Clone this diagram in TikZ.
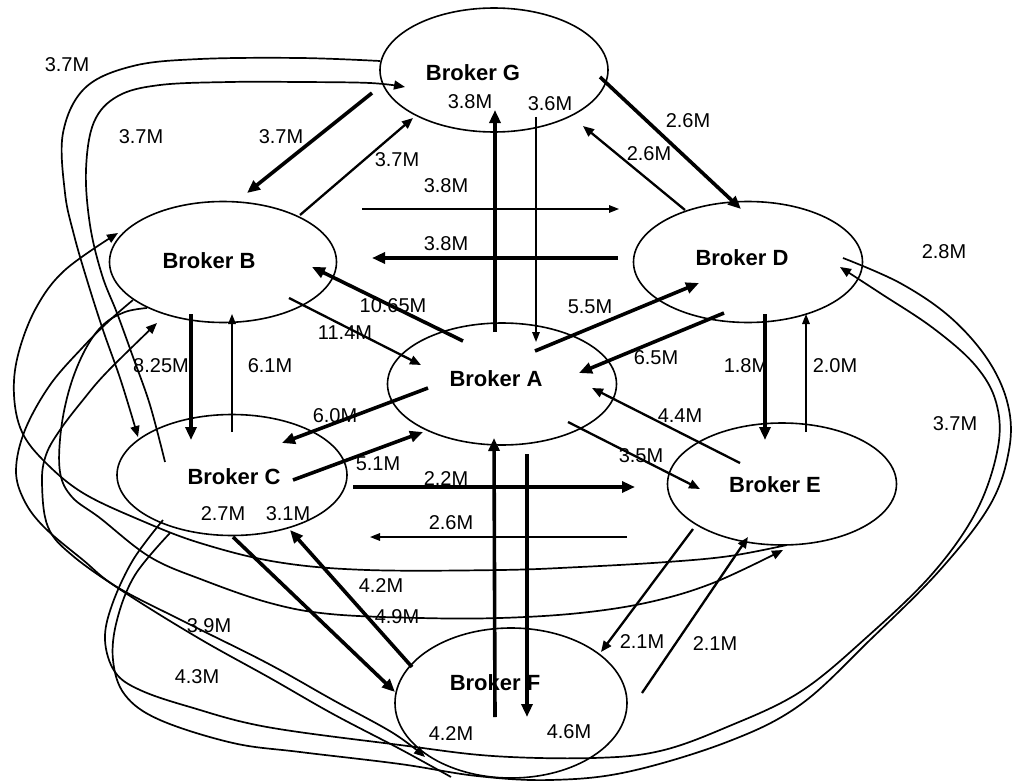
\documentclass[tikz,border=0pt]{standalone}
\usepackage{fontspec}
\setmainfont{Liberation Sans}
\usetikzlibrary{arrows.meta,shapes.geometric}
\begin{document}
\begin{tikzpicture}[x=1pt,y=-1pt,
  broker/.style={draw, ellipse, line width=1.6pt, inner sep=0pt},
  bname/.style={font=\fontsize{22}{22}\selectfont\bfseries, inner sep=0pt},
  rate/.style={font=\fontsize{20}{20}\selectfont, inner sep=0pt},
  heavy/.style={line width=3.6pt, -{Triangle[length=13pt,width=11pt]}},
  medium/.style={line width=2.3pt, -{Triangle[length=11pt,width=9pt]}},
  light/.style={line width=1.5pt, -{Triangle[length=10pt,width=7.5pt]}},
  route/.style={line width=1.7pt, line join=round},
  routetip/.style={route, -{Triangle[length=11pt,width=9pt]}}
]
\useasboundingbox (0,0) rectangle (1013,784);
\fill[white] (0,0) rectangle (1013,784);

% brokers
\node[broker, minimum width=228pt, minimum height=124pt] (G) at (494,70) {};
\node[broker, minimum width=227pt, minimum height=121pt] (B) at (223,262) {};
\node[broker, minimum width=229pt, minimum height=121pt] (D) at (748,262) {};
\node[broker, minimum width=229pt, minimum height=122pt] (A) at (502,384) {};
\node[broker, minimum width=230pt, minimum height=121pt] (C) at (232,475) {};
\node[broker, minimum width=229pt, minimum height=122pt] (E) at (782,484) {};
\node[broker, minimum width=232pt, minimum height=150pt] (F) at (511,703) {};

\node[bname] (nG) at (473,73) {Broker G};
\node[bname] (nB) at (209,261) {Broker B};
\node[bname] (nD) at (742,258) {Broker D};
\node[bname] (nA) at (496,379) {Broker A};
\node[bname] (nC) at (234,477) {Broker C};
\node[bname] (nE) at (775,485) {Broker E};
\node[bname] (nF) at (495,683) {Broker F};

% direct links
\draw[heavy]  ([shift={(-122,23)}]G.center) -- ([shift={(24,-69)}]B.center);
\draw[medium] ([shift={(77,-47)}]B.center) -- ([shift={(-81,48)}]G.center);
\draw[light]  ([shift={(139,-53)}]B.center) -- ([shift={(-129,-53)}]D.center);
\draw[heavy]  ([shift={(-130,-4)}]D.center) -- ([shift={(149,-4)}]B.center);
\draw[heavy]  ([shift={(-7,-52)}]A.center) -- ([shift={(1,40)}]G.center);
\draw[light]  ([shift={(42,47)}]G.center) -- ([shift={(34,-42)}]A.center);
\draw[heavy]  ([shift={(106,7)}]G.center) -- ([shift={(-7,-53)}]D.center);
\draw[medium] ([shift={(-63,-52)}]D.center) -- ([shift={(89,56)}]G.center);
\draw[heavy]  ([shift={(-39,-43)}]A.center) -- ([shift={(89,5)}]B.center);
\draw[medium] ([shift={(66,36)}]B.center) -- ([shift={(-81,-19)}]A.center);
\draw[heavy]  ([shift={(33,-33)}]A.center) -- ([shift={(-49,21)}]D.center);
\draw[heavy]  ([shift={(-24,51)}]D.center) -- ([shift={(77,-11)}]A.center);
\draw[heavy]  ([shift={(17,52)}]D.center) -- ([shift={(-17,-44)}]E.center);
\draw[light]  ([shift={(24,-52)}]E.center) -- ([shift={(58,52)}]D.center);
\draw[heavy]  ([shift={(-32,52)}]B.center) -- ([shift={(-41,-35)}]C.center);
\draw[light]  ([shift={(0,-43)}]C.center) -- ([shift={(9,52)}]B.center);
\draw[heavy]  ([shift={(-74,4)}]A.center) -- ([shift={(50,-32)}]C.center);
\draw[heavy]  ([shift={(61,5)}]C.center) -- ([shift={(-79,48)}]A.center);
\draw[heavy]  ([shift={(121,12)}]C.center) -- ([shift={(-147,3)}]E.center);
\draw[light]  ([shift={(-155,53)}]E.center) -- ([shift={(138,62)}]C.center);
\draw[heavy]  ([shift={(-16,14)}]F.center) -- ([shift={(-8,54)}]A.center);
\draw[heavy]  ([shift={(25,70)}]A.center) -- ([shift={(16,14)}]F.center);
\draw[medium] ([shift={(66,38)}]A.center) -- ([shift={(-82,5)}]E.center);
\draw[medium] ([shift={(-42,-21)}]E.center) -- ([shift={(90,4)}]A.center);
\draw[medium] ([shift={(-89,45)}]E.center) -- ([shift={(90,-51)}]F.center);
\draw[medium] ([shift={(131,-10)}]F.center) -- ([shift={(-34,53)}]E.center);
\draw[heavy]  ([shift={(1,62)}]C.center) -- ([shift={(-116,-11)}]F.center);
\draw[heavy]  ([shift={(-99,-36)}]F.center) -- ([shift={(58,55)}]C.center);

% long routes around the left side
\draw[routetip] plot[smooth, tension=0.6] coordinates {([shift={(-114,-9)}]G.center) (300,58) (200,59) (133,66) (85,88) (63,133) (65,193) (74,235) (87,280) (103,330) (119,375) (130,410) ([shift={(-94,-38)}]C.center)};
\draw[routetip] plot[smooth, tension=0.6] coordinates {([shift={(-67,-13)}]C.center) (150,405) (133,357) (117,313) (102,275) (90,225) (86,170) (94,122) (118,96) (160,85) (230,82) (300,82) (370,83) ([shift={(-89,17)}]G.center)};
\draw[routetip] plot[smooth, tension=0.6] coordinates {([shift={(5,61)}]E.center) (730,556) (667,562) (580,567) (500,570) (367,570) (277,562) (200,543) (140,520) (83,493) (45,462) (22,432) (14,395) (18,355) (36,308) (65,270) ([shift={(-105,-29)}]B.center)};
\draw[routetip] plot[smooth, tension=0.6] coordinates {([shift={(-76,46)}]B.center) (125,312) (103,325) (85,350) (70,387) (61,430) (60,472) (72,497) (100,518) (150,557) (203,580) (270,603) (330,614) (420,618) (500,618) (580,613) (650,602) (713,583) ([shift={(1,66)}]E.center)};
\draw[routetip] plot[smooth, tension=0.6] coordinates {([shift={(-90,38)}]B.center) (110,320) (83,347) (50,385) (25,430) (16,470) (24,500) (44,527) (83,560) (117,587) (187,623) (267,663) (333,700) (393,733) ([shift={(-86,54)}]F.center)};
\draw[routetip] plot[smooth, tension=0.6] coordinates {([shift={(-60,74)}]F.center) (400,749) (333,714) (270,678) (200,639) (127,594) (73,556) (48,527) (42,483) (46,455) (60,430) (83,400) (107,372) ([shift={(-66,61)}]B.center)};

% long routes around the right side
\draw[route] plot[smooth, tension=0.6] coordinates {([shift={(95,-4)}]D.center) (900,283) (950,317) (988,360) (1008,405) (1009,450) (990,505) (940,570) (870,640) (800,705) (727,742) (627,772) (550,780) (477,776) (400,764) (300,752) (233,743) (160,720) (125,695) (113,660) (117,620) (135,575) ([shift={(-62,58)}]C.center)};
\draw[routetip] plot[smooth, tension=0.6] coordinates {([shift={(-69,45)}]C.center) (133,560) (112,605) (105,640) (115,672) (140,690) (190,707) (267,727) (400,745) (493,756) (593,758) (660,751) (727,727) (800,692) (867,637) (933,573) (977,510) (998,447) (996,402) (975,365) (933,328) (880,293) ([shift={(92,5)}]D.center)};

% rates
\node[rate] (r1)  at (67,65)   {3.7M};
\node[rate] (r2)  at (141,137) {3.7M};
\node[rate] (r3)  at (281,137) {3.7M};
\node[rate] (r4)  at (397,160) {3.7M};
\node[rate] (r5)  at (470,102) {3.8M};
\node[rate] (r6)  at (550,104) {3.6M};
\node[rate] (r7)  at (688,121) {2.6M};
\node[rate] (r8)  at (649,154) {2.6M};
\node[rate] (r9)  at (446,186) {3.8M};
\node[rate] (r10) at (446,244) {3.8M};
\node[rate] (r11) at (944,252) {2.8M};
\node[rate] (r12) at (393,306) {10.65M};
\node[rate] (r13) at (345,333) {11.4M};
\node[rate] (r14) at (590,307) {5.5M};
\node[rate] (r15) at (656,358) {6.5M};
\node[rate] (r16) at (746,366) {1.8M};
\node[rate] (r17) at (835,366) {2.0M};
\node[rate] (r18) at (161,366) {8.25M};
\node[rate] (r19) at (270,366) {6.1M};
\node[rate] (r20) at (335,416) {6.0M};
\node[rate] (r21) at (680,416) {4.4M};
\node[rate] (r22) at (955,424) {3.7M};
\node[rate] (r23) at (378,464) {5.1M};
\node[rate] (r24) at (446,479) {2.2M};
\node[rate] (r25) at (641,456) {3.5M};
\node[rate] (r26) at (223,514) {2.7M};
\node[rate] (r27) at (288,514) {3.1M};
\node[rate] (r28) at (451,523) {2.6M};
\node[rate] (r29) at (381,586) {4.2M};
\node[rate] (r30) at (397,617) {4.9M};
\node[rate] (r31) at (209,626) {3.9M};
\node[rate] (r32) at (642,642) {2.1M};
\node[rate] (r33) at (715,644) {2.1M};
\node[rate] (r34) at (197,677) {4.3M};
\node[rate] (r35) at (451,734) {4.2M};
\node[rate] (r36) at (569,732) {4.6M};
\end{tikzpicture}
\end{document}
